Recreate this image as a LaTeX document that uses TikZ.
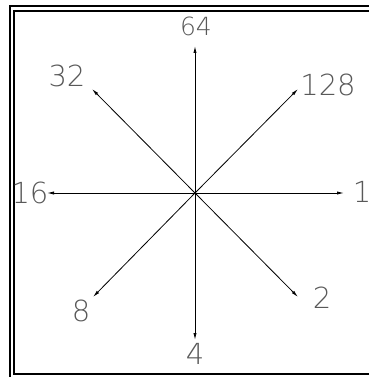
\documentclass[tikz,border=0pt]{standalone}
\usepackage{fontspec}
\setmainfont{DejaVu Sans ExtraLight}
\usetikzlibrary{arrows.meta}
\begin{document}
\begin{tikzpicture}[x=1pt,y=-1pt,
  frameline/.style={line width=2pt,black},
  ray/.style={line width=0.8pt,black,-{Latex[length=7pt,width=3.2pt]}},
  lbl/.style={text=black!65,font=\fontsize{29}{29}\selectfont,inner sep=0pt}]
\useasboundingbox (0,0) rectangle (369,377);
\fill[white] (0,0) rectangle (369,377);
% frame
\draw[frameline] (10,377) -- (10,6.5) -- (369,6.5);
\draw[frameline] (369,374) -- (14,374) -- (14,10.7) -- (369,10.7);
% centre and tips
\coordinate (c) at (195,193);
\coordinate (tN) at (195,46);
\coordinate (tS) at (195,340);
\coordinate (tW) at (47,193);
\coordinate (tE) at (344,193);
\coordinate (tNE) at (298,89);
\coordinate (tNW) at (92,89);
\coordinate (tSW) at (93,297);
\coordinate (tSE) at (298,297);
\foreach \t in {tN,tS,tW,tE,tNE,tNW,tSW,tSE} \draw[ray] (c) -- (\t);
% labels
\node[lbl,font=\fontsize{25}{25}\selectfont] (l64) at (196,26) {64};
\node[lbl] (l32) at (67,76) {32};
\node[lbl] (l128) at (328,85) {128};
\node[lbl] (l16) at (30,193) {16};
\node[lbl] (l1) at (362,192) {1};
\node[lbl] (l8) at (81,311) {8};
\node[lbl] (l2) at (322,298) {2};
\node[lbl] (l4) at (195,354) {4};
\end{tikzpicture}
\end{document}
